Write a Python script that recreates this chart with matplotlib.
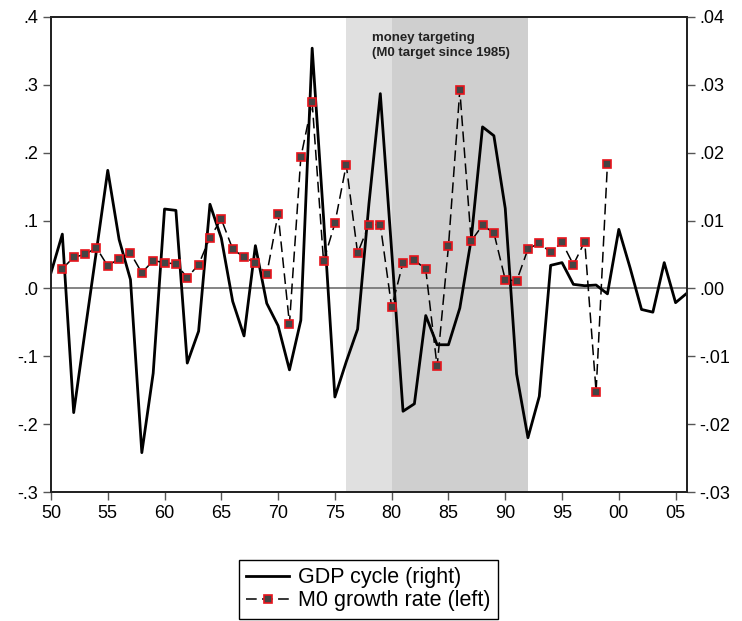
import matplotlib
matplotlib.use("Agg")
import matplotlib.pyplot as plt

plt.rcParams["font.family"] = ["Liberation Sans", "DejaVu Sans"]

# M0 growth rate (left axis), annual 1951-1999
m0_years = list(range(1951, 2000))
m0_growth = [
    0.029, 0.046, 0.050, 0.060, 0.033, 0.044, 0.052, 0.023, 0.041, 0.038,
    0.036, 0.016, 0.035, 0.075, 0.102, 0.058, 0.046, 0.038, 0.021, 0.110,
    -0.052, 0.193, 0.274, 0.040, 0.096, 0.182, 0.052, 0.094, 0.094, -0.028,
    0.038, 0.042, 0.028, -0.115, 0.062, 0.292, 0.070, 0.093, 0.082, 0.013,
    0.011, 0.058, 0.067, 0.053, 0.068, 0.035, 0.069, -0.152, 0.184,
]

# GDP cycle (right axis), annual 1950-2006
gdp_years = list(range(1950, 2007))
gdp_cycle = [
    0.0023, 0.0080, -0.0183, -0.0063, 0.0055, 0.0174, 0.0072, 0.0013, -0.0242, -0.0125,
    0.0117, 0.0115, -0.0110, -0.0063, 0.0124, 0.0074, -0.0019, -0.0070, 0.0063, -0.0022,
    -0.0055, -0.0120, -0.0047, 0.0354, 0.0105, -0.0160, -0.0108, -0.0060, 0.0125, 0.0287,
    0.0055, -0.0181, -0.0170, -0.0040, -0.0083, -0.0083, -0.0029, 0.0072, 0.0238, 0.0225,
    0.0118, -0.0126, -0.0220, -0.0159, 0.0034, 0.0038, 0.0006, 0.0004, 0.0005, -0.0008,
    0.0087, 0.0030, -0.0031, -0.0035, 0.0038, -0.0021, -0.0007,
]

xtick_years = [1950, 1955, 1960, 1965, 1970, 1975, 1980, 1985, 1990, 1995, 2000, 2005]
xtick_labels = ["50", "55", "60", "65", "70", "75", "80", "85", "90", "95", "00", "05"]
left_ticks = [-0.3, -0.2, -0.1, 0.0, 0.1, 0.2, 0.3, 0.4]
left_labels = ["-.3", "-.2", "-.1", ".0", ".1", ".2", ".3", ".4"]
right_ticks = [-0.03, -0.02, -0.01, 0.0, 0.01, 0.02, 0.03, 0.04]
right_labels = ["-.03", "-.02", "-.01", ".00", ".01", ".02", ".03", ".04"]

fig = plt.figure(figsize=(7.42, 6.21), dpi=100)
ax = fig.add_axes([0.0687, 0.2077, 0.8571, 0.765])
ax2 = ax.twinx()

# ax (M0) sits in front; ax2 carries the background, shading and GDP line
ax.set_zorder(ax2.get_zorder() + 1)
ax.patch.set_visible(False)

ax2.axvspan(1976, 1980, color="#e0e0e0", lw=0, zorder=0)
ax2.axvspan(1980, 1992, color="#cfcfcf", lw=0, zorder=0)
ax2.axhline(0, color="#707070", lw=1.2, zorder=1)
gdp_line, = ax2.plot(gdp_years, gdp_cycle, color="black", lw=2.0, zorder=2)

ax.text(1978.3, 0.378, "money targeting\n(M0 target since 1985)", fontsize=9.5,
        fontweight="bold", va="top", ha="left", color="#222222", linespacing=1.3)

m0_line, = ax.plot(m0_years, m0_growth, color="black", lw=1.1, ls=(0, (7, 3.5)),
                   marker="s", markersize=5.5, markerfacecolor="#444444",
                   markeredgecolor="#e8141c", markeredgewidth=1.2, zorder=3)

ax.set_xlim(1950, 2006)
ax.set_ylim(-0.3, 0.4)
ax2.set_ylim(-0.03, 0.04)
ax.set_xticks(xtick_years)
ax.set_xticklabels(xtick_labels)
ax.set_yticks(left_ticks)
ax.set_yticklabels(left_labels)
ax2.set_yticks(right_ticks)
ax2.set_yticklabels(right_labels)

for a in (ax, ax2):
    a.tick_params(labelsize=13, length=6, width=1, color="#555555", pad=3)
    for s in a.spines.values():
        s.set_linewidth(1.3)
        s.set_color("#222222")

leg = fig.legend([gdp_line, m0_line], ["GDP cycle (right)", "M0 growth rate (left)"],
                 loc="lower center", bbox_to_anchor=(0.4965, 0.0), fontsize=15.5,
                 frameon=True, fancybox=False, edgecolor="black", framealpha=1,
                 handlelength=2.0, borderpad=0.35, labelspacing=0.1,
                 handletextpad=0.4, borderaxespad=0.1)
leg.get_frame().set_linewidth(1.0)

fig.savefig("out.png", dpi=100)
